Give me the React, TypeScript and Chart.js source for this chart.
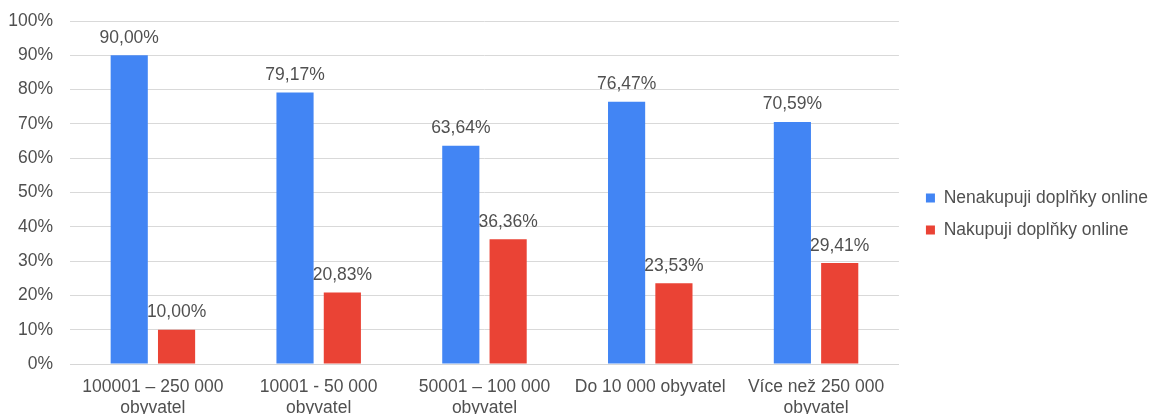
import React, { useEffect, useRef } from "react";
import { Chart, registerables } from "chart.js";

Chart.register(...registerables);

// Town-size categories (bottom axis, two-line labels)
const categories: (string | string[])[] = [
  ["100001 – 250 000", "obyvatel"],
  ["10001 - 50 000", "obyvatel"],
  ["50001 – 100 000", "obyvatel"],
  "Do 10 000 obyvatel",
  ["Více než 250 000", "obyvatel"],
];

// Share of respondents, in percent
const notBuyingOnline = [90.0, 79.17, 63.64, 76.47, 70.59];
const buyingOnline = [10.0, 20.83, 36.36, 23.53, 29.41];

const seriesNames = ["Nenakupuji doplňky online", "Nakupuji doplňky online"];
const seriesColors = ["#4285F4", "#EA4335"];

const FONT_FAMILY = "'Liberation Sans', Arial, Helvetica, sans-serif";
const FONT_SIZE = 17.5;
const TEXT_COLOR = "#505050";

const formatPercent = (v: number) => v.toFixed(2).replace(".", ",") + "%";

// Draws the value above each bar
const valueLabels = {
  id: "valueLabels",
  afterDatasetsDraw(chart: Chart) {
    const ctx = chart.ctx;
    ctx.save();
    ctx.font = `${FONT_SIZE}px ${FONT_FAMILY}`;
    ctx.fillStyle = TEXT_COLOR;
    ctx.textAlign = "center";
    ctx.textBaseline = "alphabetic";
    chart.data.datasets.forEach((ds, i) => {
      const meta = chart.getDatasetMeta(i);
      meta.data.forEach((bar: any, j: number) => {
        const v = ds.data[j] as number;
        ctx.fillText(formatPercent(v), bar.x, bar.y - 12.5);
      });
    });
    ctx.restore();
  },
};

export default function App() {
  const canvasRef = useRef<HTMLCanvasElement | null>(null);

  useEffect(() => {
    document.body.style.margin = "0";
    const canvas = canvasRef.current;
    if (!canvas) return;
    const chart = new Chart(canvas, {
      type: "bar",
      data: {
        labels: categories,
        datasets: [
          {
            label: seriesNames[0],
            data: notBuyingOnline,
            backgroundColor: seriesColors[0],
            borderWidth: 0,
            categoryPercentage: 0.571,
            barPercentage: 0.785,
          },
          {
            label: seriesNames[1],
            data: buyingOnline,
            backgroundColor: seriesColors[1],
            borderWidth: 0,
            categoryPercentage: 0.571,
            barPercentage: 0.785,
          },
        ],
      },
      options: {
        responsive: false,
        animation: false,
        layout: { padding: { top: 0, left: 0, right: -8, bottom: 2 } },
        plugins: {
          legend: {
            display: true,
            position: "right",
            align: "center",
            maxWidth: 300,
            labels: {
              boxWidth: 9,
              boxHeight: 9,
              padding: 14.5,
              color: TEXT_COLOR,
              font: { family: FONT_FAMILY, size: FONT_SIZE },
            },
          },
          tooltip: { enabled: false },
        },
        scales: {
          x: {
            grid: { display: false, drawTicks: false },
            border: { display: true, color: "#d6d6d6", width: 1 },
            ticks: {
              color: TEXT_COLOR,
              font: { family: FONT_FAMILY, size: FONT_SIZE, lineHeight: 1.2 },
              padding: 13,
              maxRotation: 0,
              minRotation: 0,
              autoSkip: false,
            },
            afterFit: (s: any) => {
              s.height = 64;
            },
          },
          y: {
            min: 0,
            max: 100,
            grid: { color: "#d9d9d9", lineWidth: 1, drawTicks: false },
            border: { display: false },
            ticks: {
              stepSize: 10,
              padding: 17,
              color: TEXT_COLOR,
              font: { family: FONT_FAMILY, size: FONT_SIZE },
              callback: (v: any) => `${v}%`,
            },
            afterFit: (s: any) => {
              s.width = 70;
              s.paddingTop = 21;
              s.paddingBottom = 0;
            },
          },
          // empty spacer between the plot area and the legend
          gap: {
            type: "linear",
            position: "right",
            display: true,
            grid: { display: false, drawTicks: false },
            border: { display: false },
            ticks: { display: false },
            afterFit: (s: any) => {
              s.width = 12.5;
            },
          },
        },
      },
      plugins: [valueLabels],
    } as any);
    return () => chart.destroy();
  }, []);

  return (
    <div
      style={{
        position: "fixed",
        left: 0,
        top: 0,
        width: 1150,
        height: 414,
        overflow: "hidden",
        background: "#fff",
      }}
    >
      <canvas ref={canvasRef} width={1150} height={430} style={{ display: "block" }} />
    </div>
  );
}
